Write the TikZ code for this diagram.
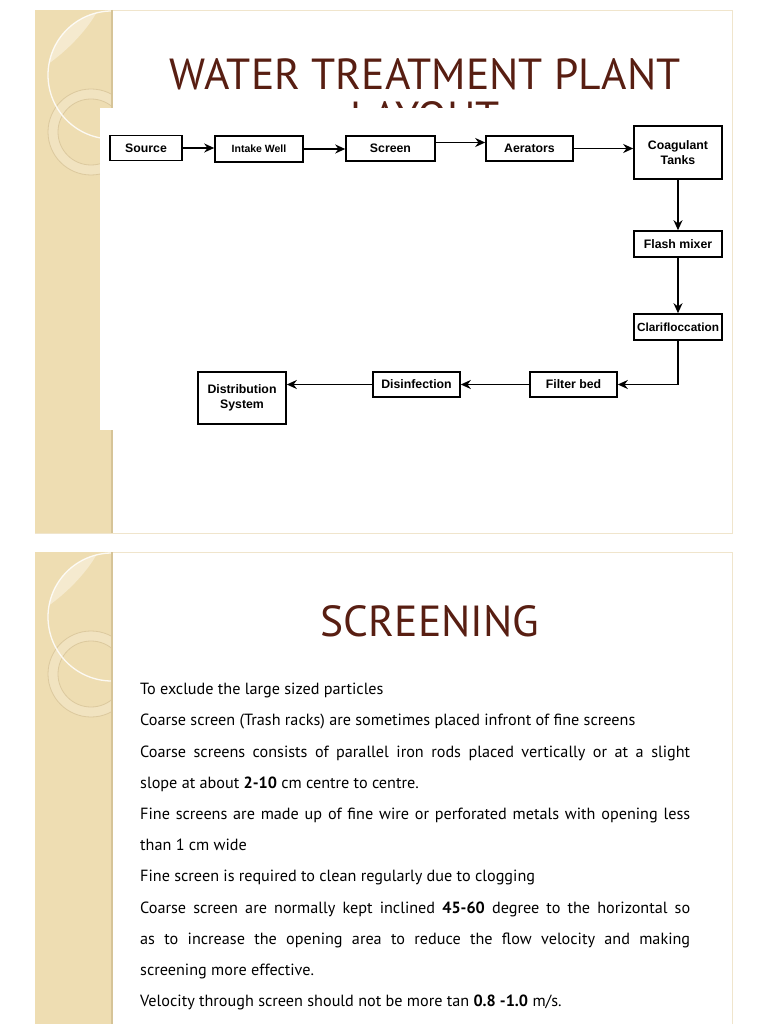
\documentclass[tikz,border=0pt]{standalone}
\usepackage{fontspec}
\setmainfont{PT Sans}
\newfontfamily\boxfont{Liberation Sans}
\usetikzlibrary{arrows.meta, positioning}

\definecolor{panelbeige}{RGB}{238,221,178}
\definecolor{panellight}{RGB}{245,234,207}
\definecolor{panelshadow}{RGB}{214,196,152}
\definecolor{ringline}{RGB}{220,201,158}
\definecolor{titlebrown}{RGB}{88,30,18}
\definecolor{slideedge}{RGB}{240,229,204}

\begin{document}
\begin{tikzpicture}[x=1pt, y=-1pt,
        box/.style={draw, line width=1.6pt, fill=white, inner sep=2pt, minimum height=25pt,
            align=center, font=\boxfont\bfseries\fontsize{12.3}{15}\selectfont}, % boxes of the flow chart
        flow/.style={line width=1.7pt, -{Stealth[length=10pt, width=9pt]}}, % arrows between boxes
        slidetitle/.style={text=titlebrown, inner sep=0pt, anchor=base,
            font=\fontsize{43.5}{50}\selectfont} % titles of the slides
        ]

    % page and the two slides
    \useasboundingbox (0,0) rectangle (768,1024);
    \fill[white] (0,0) rectangle (768,1024);
    \draw[slideedge, fill=white] (35,10) rectangle (732,533);
    \draw[slideedge, fill=white] (35,552) rectangle (732,1030);

    % beige side panel with its circles, once for each slide
    \foreach \dy in {0,542}{
        \begin{scope}[shift={(0,\dy)}]
            \begin{scope}
                \clip (35,10) rectangle (112,533);
                \fill[panelbeige] (35,10) rectangle (112,533);
                \begin{scope}
                    \clip (112,75) circle[radius=64];
                    \fill[panellight] (35,10) -- (35,72) .. controls (55,62) and (85,35) .. (98,10) -- cycle;
                \end{scope}
                \fill[panellight, opacity=0.5, even odd rule] (91,132) circle[radius=43] (91,132) circle[radius=33];
                \draw[ringline, line width=0.8pt] (91,132) circle[radius=43];
                \draw[ringline, line width=0.8pt] (91,132) circle[radius=33];
                \draw[white, opacity=0.85, line width=1.3pt] (112,75) circle[radius=64];
            \end{scope}
            \draw[panelshadow, line width=1.2pt] (112,10) -- (112,533);
        \end{scope}
    }

    % first slide: title, its second line mostly hidden under the chart
    \node[slidetitle] (title) at (425,90) {WATER TREATMENT PLANT};
    \begin{scope}
        \clip (100,95) rectangle (732,108);
        \node[slidetitle] (titlerest) at (425,133) {LAYOUT};
    \end{scope}
    \fill[white] (100,108) rectangle (732,430);

    % flow chart
    \node[box, minimum width=72pt] (source) at (146,148) {Source};
    \node[box, minimum width=88pt, minimum height=26pt, font=\boxfont\bfseries\fontsize{10.5}{12}\selectfont] (intake) at (259,149) {Intake Well};
    \node[box, minimum width=89pt] (screen) at (390.5,148.5) {Screen};
    \node[box, minimum width=87pt] (aerators) at (529.5,148.5) {Aerators};
    \node[box, minimum width=88pt, minimum height=53pt] (coagulant) at (678,152.5) {Coagulant\\Tanks};
    \node[box, minimum width=88pt, minimum height=26pt] (flash) at (678,244) {Flash mixer};
    \node[box, minimum width=88pt, minimum height=26pt, inner sep=1pt, font=\boxfont\bfseries\fontsize{11.8}{14}\selectfont] (clari) at (678,327) {Clarifloccation};
    \node[box, minimum width=87pt] (filter) at (573.5,384.5) {Filter bed};
    \node[box, minimum width=87pt] (disinfection) at (416.5,384.5) {Disinfection};
    \node[box, minimum width=88pt, minimum height=52pt] (distribution) at (242,398) {Distribution\\System};

    \draw[flow] (source) -- (intake.west |- source);
    \draw[flow] (intake) -- (screen.west |- intake);
    \draw[flow] ([yshift=6pt]screen.east) -- ([yshift=6pt]aerators.west);
    \draw[flow] (aerators) -- (coagulant.west |- aerators);
    \draw[flow] (coagulant) -- (flash);
    \draw[flow] (flash) -- (clari);
    \draw[flow] (clari.south) |- (filter.east);
    \draw[flow] (filter) -- (disinfection);
    \draw[flow] (disinfection.west) -- (distribution.east |- disinfection.west);

    % second slide
    \node[slidetitle] (screening) at (430,636) {SCREENING};
    \node[anchor=north west, inner sep=0pt, text width=550pt, align=justify,
        font=\fontsize{16.2}{31.2}\selectfont] (body) at (140,683) {%
        To exclude the large sized particles\par
        Coarse screen (Trash racks) are sometimes placed infront of fine screens\par
        Coarse screens consists of parallel iron rods placed vertically or at a slight\linebreak
        slope at about \textbf{2-10} cm centre to centre.\par
        Fine screens are made up of fine wire or perforated metals with opening less\linebreak
        than 1 cm wide\par
        Fine screen is required to clean regularly due to clogging\par
        Coarse screen are normally kept inclined \textbf{45-60} degree to the horizontal so\linebreak
        as to increase the opening area to reduce the flow velocity and making\linebreak
        screening more effective.\par
        Velocity through screen should not be more tan \textbf{0.8 -1.0} m/s.};

\end{tikzpicture}
\end{document}
